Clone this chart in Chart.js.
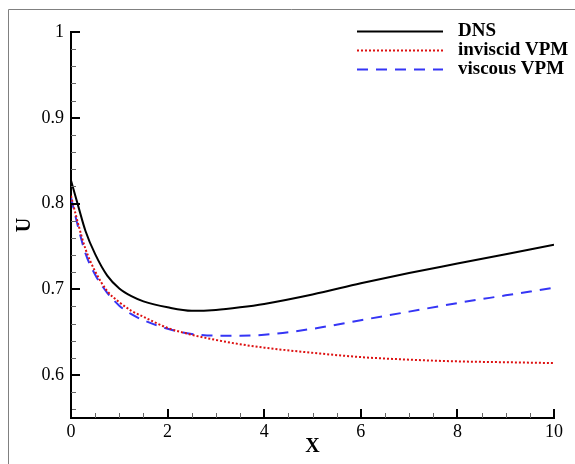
<!DOCTYPE html>
<html>
<head>
<meta charset="utf-8">
<title>U vs X</title>
<script src="https://cdn.jsdelivr.net/npm/chart.js"></script>
<style>
    html, body { margin: 0; padding: 0; background: #fff; }
    #wrap { width: 575px; height: 464px; position: relative; }
</style>
</head>
<body>
<div id="wrap"><canvas id="uChart"></canvas></div>
<script>
// data
const xVals = [0, 0.15, 0.3, 0.5, 0.75, 1, 1.25, 1.5, 2, 2.5, 3, 3.5, 4, 5, 6, 7, 8, 9, 10];
const dnsU = [0.827, 0.797, 0.768, 0.741, 0.716, 0.701, 0.692, 0.686, 0.679, 0.675, 0.676, 0.679, 0.683, 0.694, 0.707, 0.719, 0.730, 0.741, 0.752];
const invU = [0.809, 0.776, 0.747, 0.721, 0.698, 0.685, 0.675, 0.668, 0.655, 0.647, 0.641, 0.636, 0.632, 0.626, 0.621, 0.618, 0.616, 0.615, 0.614];
const visU = [0.807, 0.772, 0.742, 0.717, 0.696, 0.681, 0.671, 0.664, 0.654, 0.648, 0.646, 0.646, 0.647, 0.654, 0.664, 0.674, 0.684, 0.693, 0.702];
const seriesNames = ['DNS', 'inviscid VPM', 'viscous VPM'];
const xTicks = [0, 2, 4, 6, 8, 10];
const yTicks = [0.6, 0.7, 0.8, 0.9, 1];

const SERIF = '"Liberation Serif", "Times New Roman", serif';

function toPoints(ys) {
    return xVals.map((x, i) => ({ x: x, y: ys[i] }));
}

// frame, inward ticks and legend
const extras = {
    id: 'extras',
    beforeDraw(chart) {
        const c = chart.ctx;
        c.save();
        c.strokeStyle = '#808080';
        c.lineWidth = 1;
        c.beginPath();
        c.moveTo(8.5, chart.height);
        c.lineTo(8.5, 9.5);
        c.lineTo(chart.width, 9.5);
        c.stroke();
        c.restore();
    },
    afterDraw(chart) {
        const c = chart.ctx;
        const xs = chart.scales.x, ys = chart.scales.y;
        const area = chart.chartArea;
        c.save();
        // minor ticks: every 0.5 on x, every 0.02 on y
        c.strokeStyle = '#666';
        c.lineWidth = 1;
        c.beginPath();
        for (let k = 1; k < 20; k++) {
            if (k % 4 === 0) continue;
            const px = Math.round(xs.getPixelForValue(k / 2)) + 0.5;
            c.moveTo(px, area.bottom);
            c.lineTo(px, area.bottom - 5);
        }
        for (let k = 28; k < 50; k++) {
            if (k % 5 === 0) continue;
            const py = Math.round(ys.getPixelForValue(k / 50)) + 0.5;
            c.moveTo(area.left, py);
            c.lineTo(area.left + 5, py);
        }
        c.stroke();
        // major ticks
        c.strokeStyle = '#000';
        c.lineWidth = 2;
        c.beginPath();
        xTicks.forEach(v => {
            const px = Math.round(xs.getPixelForValue(v));
            c.moveTo(px, area.bottom);
            c.lineTo(px, area.bottom - 9);
        });
        yTicks.forEach(v => {
            const py = Math.round(ys.getPixelForValue(v));
            c.moveTo(area.left, py);
            c.lineTo(area.left + 9, py);
        });
        c.stroke();

        // legend
        const rows = [31, 50, 69];
        chart.data.datasets.forEach((ds, i) => {
            const y = rows[i] + 0.5;
            c.strokeStyle = ds.borderColor;
            c.lineWidth = ds.borderWidth;
            c.setLineDash(ds.borderDash || []);
            c.beginPath();
            c.moveTo(357, y);
            c.lineTo(443, y);
            c.stroke();
            c.setLineDash([]);
            c.fillStyle = '#000';
            c.font = 'bold 19px ' + SERIF;
            c.textBaseline = 'middle';
            c.textAlign = 'left';
            c.fillText(ds.label, 458, y);
        });
        c.restore();
    }
};

const ctx = document.getElementById('uChart').getContext('2d');
new Chart(ctx, {
    type: 'line',
    data: {
        datasets: [
            {
                label: seriesNames[0],
                data: toPoints(dnsU),
                borderColor: '#000000',
                borderWidth: 2,
                pointRadius: 0,
                cubicInterpolationMode: 'monotone'
            },
            {
                label: seriesNames[1],
                data: toPoints(invU),
                borderColor: '#dd1111',
                borderWidth: 2,
                borderDash: [2, 2],
                pointRadius: 0,
                cubicInterpolationMode: 'monotone'
            },
            {
                label: seriesNames[2],
                data: toPoints(visU),
                borderColor: '#3535f5',
                borderWidth: 2,
                borderDash: [11, 8],
                pointRadius: 0,
                cubicInterpolationMode: 'monotone'
            }
        ]
    },
    options: {
        responsive: true,
        maintainAspectRatio: false,
        animation: false,
        layout: { padding: { top: 32, right: 21, left: 0, bottom: 0 } },
        plugins: {
            legend: { display: false },
            tooltip: { enabled: false }
        },
        scales: {
            x: {
                type: 'linear',
                min: 0,
                max: 10,
                afterBuildTicks: s => { s.ticks = xTicks.map(v => ({ value: v })); },
                afterFit: s => { s.height = 46; },
                grid: { display: false, drawTicks: false },
                border: { display: true, color: '#000', width: 2 },
                ticks: {
                    color: '#000',
                    padding: 3,
                    font: { family: SERIF, size: 18 },
                    callback: v => String(v)
                },
                title: {
                    display: true,
                    text: 'X',
                    color: '#000',
                    padding: 5,
                    font: { family: SERIF, size: 20, weight: 'bold' }
                }
            },
            y: {
                type: 'linear',
                min: 0.55,
                max: 1,
                afterBuildTicks: s => { s.ticks = yTicks.map(v => ({ value: v })); },
                afterFit: s => { s.width = 71; },
                grid: { display: false, drawTicks: false },
                border: { display: true, color: '#000', width: 2 },
                ticks: {
                    color: '#000',
                    padding: 7,
                    font: { family: SERIF, size: 18 },
                    callback: v => String(Math.round(v * 10) / 10)
                },
                title: {
                    display: true,
                    text: 'U',
                    color: '#000',
                    padding: 13,
                    font: { family: SERIF, size: 20, weight: 'bold' }
                }
            }
        }
    },
    plugins: [extras]
});
</script>
</body>
</html>
